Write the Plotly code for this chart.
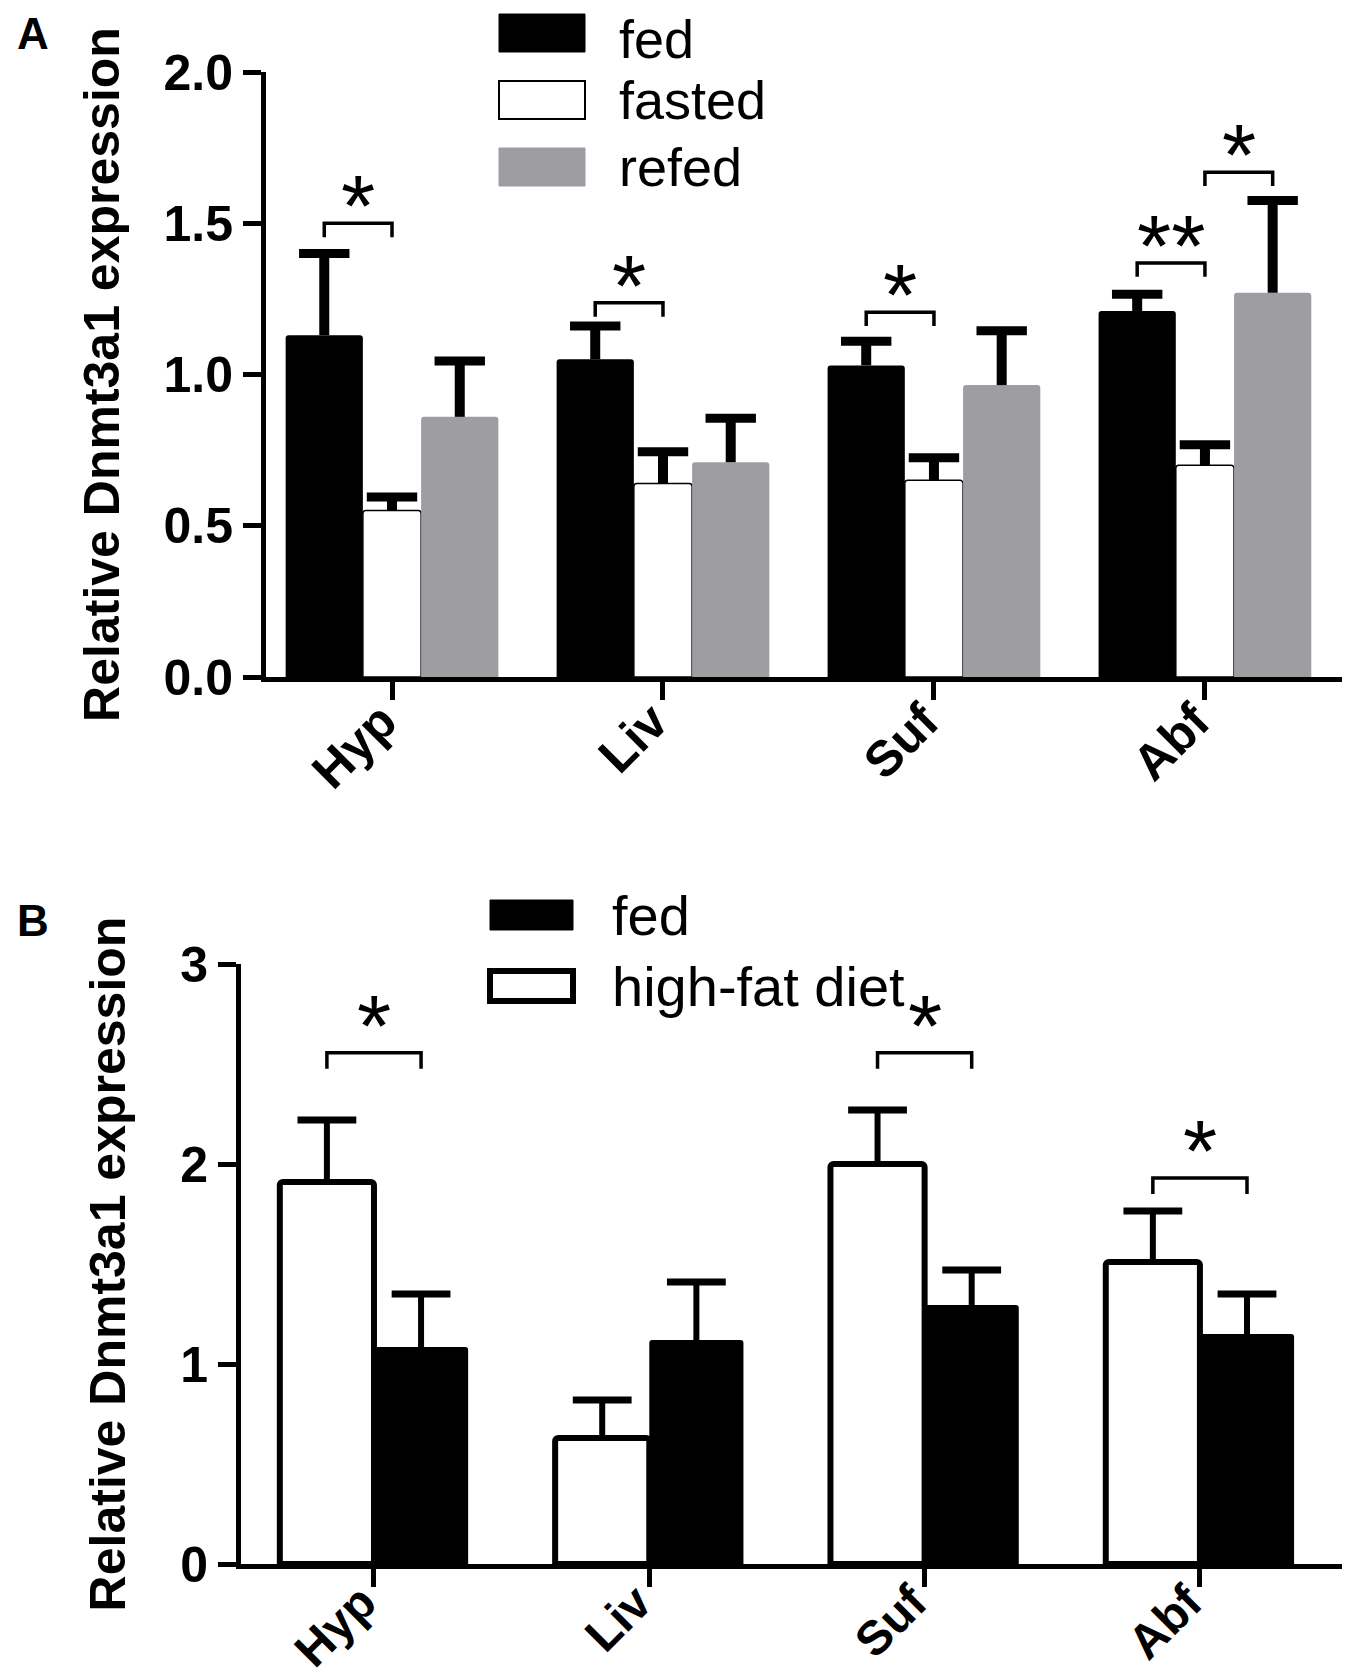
import plotly.graph_objects as go

W, H = 1350, 1680

categories = ["Hyp", "Liv", "Suf", "Abf"]

# panel A: fed / fasted / refed
a_names = ["fed", "fasted", "refed"]
a_fed = [1.13, 1.05, 1.03, 1.21]
a_fed_sem = [0.27, 0.11, 0.08, 0.055]
a_fasted = [0.55, 0.64, 0.65, 0.70]
a_fasted_sem = [0.045, 0.105, 0.075, 0.068]
a_refed = [0.86, 0.71, 0.965, 1.27]
a_refed_sem = [0.185, 0.145, 0.18, 0.305]
a_yticks = [0.0, 0.5, 1.0, 1.5, 2.0]
# (category, left series, right series, bracket height, label)
a_sig = [(0, 0, 1, 1.50, "*"), (1, 0, 1, 1.237, "*"), (2, 0, 1, 1.206, "*"),
         (3, 0, 1, 1.369, "**"), (3, 1, 2, 1.669, "*")]

# panel B: bars in picture order (white first), legend lists fed first
b_names = ["high-fat diet", "fed"]
b_hfd = [1.91, 0.63, 2.00, 1.51]
b_hfd_sem = [0.31, 0.19, 0.27, 0.255]
b_fed = [1.085, 1.12, 1.295, 1.15]
b_fed_sem = [0.265, 0.29, 0.175, 0.20]
b_yticks = [0, 1, 2, 3]
b_sig = [(0, 0, 1, 2.556, "*"), (2, 0, 1, 2.556, "*"), (3, 0, 1, 1.93, "*")]

GRAY = "#9e9ea2"
FONT = "Liberation Sans"


def px(x):
    return x / W


def py(y):
    return 1 - y / H


fig = go.Figure()


def add_bars(vals, sems, off, width, fill, line_w, xa, ya, stem, cap_px, cap_w):
    xs = [i + off for i in range(len(vals))]
    fig.add_trace(go.Bar(
        x=xs, y=vals, width=width, xaxis=xa, yaxis=ya,
        marker=dict(color=fill, line=dict(color="black", width=line_w), cornerradius=3),
        error_y=dict(type="data", array=sems, arrayminus=[0] * len(vals), symmetric=False,
                     width=0, thickness=stem, color="black"),
        showlegend=False, hoverinfo="skip"))
    # caps of the error bars
    fig.add_trace(go.Scatter(
        x=xs, y=[v + s for v, s in zip(vals, sems)], xaxis=xa, yaxis=ya, mode="markers",
        marker=dict(symbol="line-ew", size=cap_px, line=dict(width=cap_w, color="black")),
        showlegend=False, hoverinfo="skip"))


# panel A bars
a_off = [-0.25, 0.0, 0.25]
a_wid = [0.285, 0.215, 0.285]
a_vals = [(a_fed, a_fed_sem, "black", 0), (a_fasted, a_fasted_sem, "white", 1.5), (a_refed, a_refed_sem, GRAY, 0)]
for k, (v, s, c, lw) in enumerate(a_vals):
    add_bars(v, s, a_off[k], a_wid[k], c, lw, "x", "y", 10, 36, 9)

# panel B bars
b_off = [-0.171, 0.171]
b_vals = [(b_hfd, b_hfd_sem, "white", 6), (b_fed, b_fed_sem, "black", 0)]
for k, (v, s, c, lw) in enumerate(b_vals):
    add_bars(v, s, b_off[k], 0.342, c, lw, "x2", "y2", 6, 42, 7)

shapes = []
annotations = []


def add_sig(sig, offs, xref, yref, leg, star_gap, star_shift):
    for cat, s0, s1, yb, label in sig:
        x0, x1 = cat + offs[s0], cat + offs[s1]
        shapes.append(dict(type="path", xref=xref, yref=yref,
                           path=f"M {x0},{yb - leg} L {x0},{yb} L {x1},{yb} L {x1},{yb - leg}",
                           line=dict(color="black", width=3.5)))
        annotations.append(dict(x=(x0 + x1) / 2, y=yb + star_gap, xref=xref, yref=yref,
                                text=label, showarrow=False, yanchor="middle", yshift=star_shift,
                                font=dict(family=FONT, size=88, color="black")))


add_sig(a_sig, a_off, "x", "y", 0.046, 0.105, -14)
add_sig(b_sig, b_off, "x2", "y2", 0.08, 0.187, -10)

# legends drawn as boxes + text
a_leg = [(a_names[0], "black", 0, 25), (a_names[1], "white", 2, 92), (a_names[2], GRAY, 0, 159)]
for i, (name, fill, lw, yc) in enumerate(a_leg):
    shapes.append(dict(type="rect", xref="paper", yref="paper",
                       x0=px(491), x1=px(577), y0=py(yc - 19), y1=py(yc + 19),
                       fillcolor=fill, line=dict(color="black" if lw else fill, width=lw if lw else 1)))
    ann = dict(x=px(610), y=py(yc), xref="paper", yref="paper", text=name,
               showarrow=False, xanchor="left", yanchor="middle", borderpad=0,
               font=dict(family=FONT, size=54, color="black"))
    if i == 0:
        ann.update(y=1, yanchor="top")
    annotations.append(ann)

b_leg = [(b_names[1], "black", 0, 907), (b_names[0], "white", 6, 978)]
for name, fill, lw, yc in b_leg:
    shapes.append(dict(type="rect", xref="paper", yref="paper",
                       x0=px(482), x1=px(565), y0=py(yc - 15), y1=py(yc + 15),
                       fillcolor=fill, line=dict(color="black", width=lw if lw else 1)))
    annotations.append(dict(x=px(602), y=py(yc), xref="paper", yref="paper", text=name,
                            showarrow=False, xanchor="left", yanchor="middle",
                            font=dict(family=FONT, size=56, color="black")))

annotations.append(dict(x=px(25), y=1, xref="paper", yref="paper", text="A",
                        showarrow=False, xanchor="center", yanchor="top", borderpad=0,
                        font=dict(family=FONT, size=44, color="black", weight="bold")))
annotations.append(dict(x=px(25), y=py(913), xref="paper", yref="paper", text="B",
                        showarrow=False, xanchor="center", yanchor="middle",
                        font=dict(family=FONT, size=44, color="black", weight="bold")))

tick_font = dict(family=FONT, size=50, color="black", weight="bold")
title_font = dict(family=FONT, size=50, color="black", weight="bold")
axis_common = dict(showline=True, linecolor="black", linewidth=5, ticks="outside",
                   tickwidth=5, tickcolor="black", ticklen=18, showgrid=False,
                   zeroline=False, tickfont=tick_font, fixedrange=True, automargin=False)

fig.update_layout(
    width=W, height=H, barmode="overlay",
    margin=dict(l=0, r=0, t=0, b=0, autoexpand=False),
    paper_bgcolor="white", plot_bgcolor="white",
    shapes=shapes, annotations=annotations,
    xaxis=dict(domain=[px(258), px(1340)], range=[-0.465, 3.528], anchor="y",
               tickvals=list(range(len(categories))), ticktext=categories, tickangle=-45,
               ticklabelstandoff=-28, ticklabelshift=-10, **axis_common),
    yaxis=dict(domain=[py(669), py(64)], range=[0, 2], anchor="x",
               tickvals=a_yticks, tickformat=".1f", ticklabelstandoff=0,
               title=dict(text="Relative Dnmt3a1 expression", font=title_font, standoff=29),
               **axis_common),
    xaxis2=dict(domain=[px(233), px(1345)], range=[-0.483, 3.556], anchor="y2",
                tickvals=list(range(len(categories))), ticktext=categories, tickangle=-45,
                ticklabelstandoff=-32, ticklabelshift=-12,
                **{**axis_common, "tickfont": dict(tick_font, size=48)}),
    yaxis2=dict(domain=[py(1556), py(956)], range=[0, 3], anchor="x2",
                tickvals=b_yticks, ticklabelstandoff=0,
                title=dict(text="Relative Dnmt3a1 expression", font=title_font, standoff=40),
                **axis_common),
)

fig.write_html("out.html")
